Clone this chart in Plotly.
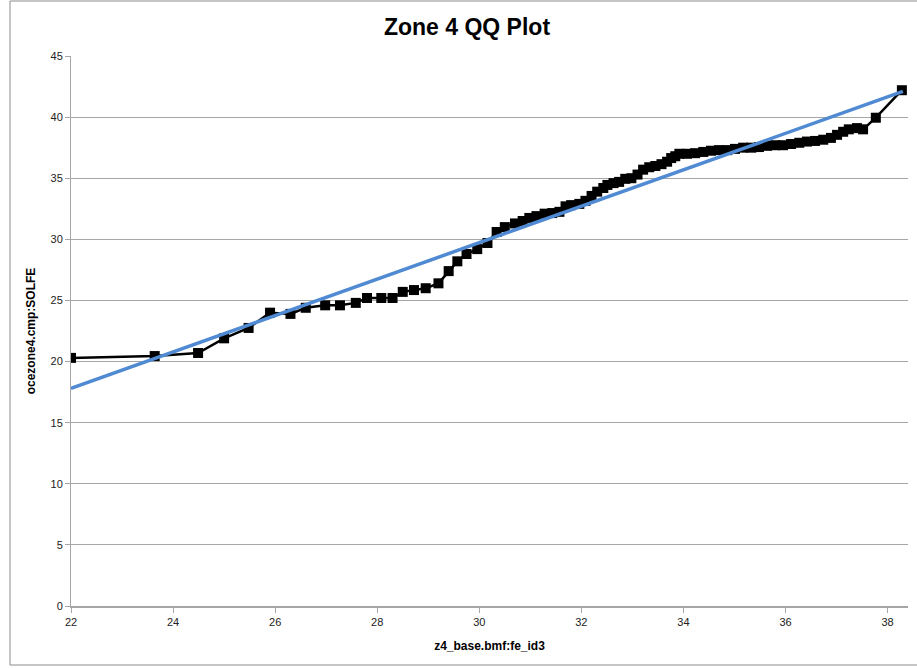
import plotly.graph_objects as go

# Sample quantiles (x) vs. model quantiles (y)
qq_x = [22.0, 23.64, 24.49, 25.0, 25.48, 25.9, 26.3, 26.6, 26.98, 27.27, 27.58,
        27.8, 28.08, 28.3, 28.5, 28.72, 28.95, 29.2, 29.4, 29.57, 29.75, 29.96,
        30.16, 30.34, 30.5, 30.7, 30.85, 30.98, 31.12, 31.28, 31.43, 31.57,
        31.69, 31.8, 31.96, 32.08, 32.2, 32.31, 32.43, 32.51, 32.63, 32.74,
        32.86, 32.98, 33.1, 33.21, 33.33, 33.45, 33.57, 33.68, 33.76, 33.84,
        33.92, 34.07, 34.23, 34.39, 34.54, 34.7, 34.86, 35.01, 35.17, 35.33,
        35.48, 35.64, 35.8, 35.95, 36.11, 36.27, 36.42, 36.58, 36.74, 36.89,
        37.01, 37.13, 37.24, 37.4, 37.52, 37.77, 38.28]
qq_y = [20.3, 20.45, 20.7, 21.9, 22.75, 24.0, 23.9, 24.4, 24.6, 24.6, 24.8,
        25.2, 25.2, 25.2, 25.7, 25.85, 26.0, 26.4, 27.4, 28.2, 28.8, 29.2,
        29.7, 30.6, 31.0, 31.3, 31.5, 31.75, 31.9, 32.1, 32.15, 32.25,
        32.7, 32.8, 32.9, 33.15, 33.55, 33.9, 34.2, 34.45, 34.6, 34.7,
        34.95, 35.0, 35.3, 35.7, 35.9, 36.0, 36.15, 36.35, 36.65, 36.8,
        37.0, 37.0, 37.05, 37.15, 37.25, 37.3, 37.3, 37.4, 37.5, 37.5,
        37.55, 37.65, 37.7, 37.7, 37.8, 37.9, 38.0, 38.05, 38.15, 38.3,
        38.55, 38.8, 39.0, 39.1, 39.0, 39.95, 42.2]

# Reference line endpoints
ref_x = [22.0, 38.3]
ref_y = [17.8, 42.1]

x_ticks = [22, 24, 26, 28, 30, 32, 34, 36, 38]
y_ticks = [0, 5, 10, 15, 20, 25, 30, 35, 40, 45]

W, H = 917, 668
ml, mr, mt, mb = 71, 9, 56, 62
pw, ph = W - ml - mr, H - mt - mb

fig = go.Figure()
fig.add_trace(go.Scatter(
    x=qq_x, y=qq_y, mode="lines+markers",
    line=dict(color="black", width=2.5),
    marker=dict(symbol="square", size=10, color="black"),
    showlegend=False,
))
fig.add_trace(go.Scatter(
    x=ref_x, y=ref_y, mode="lines",
    line=dict(color="rgb(80,138,210)", width=3.5),
    showlegend=False,
))

axis_font = dict(family="Liberation Sans, Arial, sans-serif", size=11, color="#222")
fig.update_layout(
    width=W, height=H,
    margin=dict(l=ml, r=mr, t=mt, b=mb),
    paper_bgcolor="white", plot_bgcolor="white",
    title=dict(text="<b>Zone 4 QQ Plot</b>", x=467 / W, xref="container", xanchor="center",
               y=1 - 27 / H, yref="container", yanchor="middle",
               font=dict(family="Liberation Sans, Arial, sans-serif", size=23, color="black")),
    xaxis=dict(range=[22, 38.4], tickvals=x_ticks, showgrid=False, zeroline=False,
               showline=True, linecolor="#a6a6a6", linewidth=2,
               ticks="outside", ticklen=5, tickcolor="#a6a6a6", tickfont=axis_font,
               title=dict(text="<b>z4_base.bmf:fe_id3</b>", standoff=14,
                          font=dict(family="Liberation Sans, Arial, sans-serif", size=12, color="black"))),
    yaxis=dict(range=[0, 45], tickvals=y_ticks, showgrid=True, gridcolor="#a6a6a6", gridwidth=1,
               zeroline=False, showline=True, linecolor="#a6a6a6", linewidth=1,
               ticks="outside", ticklen=5, tickcolor="#a6a6a6", tickfont=axis_font,
               title=dict(text="<b>ocezone4.cmp:SOLFE</b>", standoff=12,
                          font=dict(family="Liberation Sans, Arial, sans-serif", size=12, color="black"))),
)

# Chart frame
fig.add_shape(type="rect", xref="paper", yref="paper",
              x0=(10 - ml) / pw, x1=(W + 5 - ml) / pw,
              y0=(H - mb - 665) / ph, y1=(H - mb - 1) / ph,
              line=dict(color="#8c8c8c", width=1), fillcolor="rgba(0,0,0,0)", layer="below")

fig.write_html("out.html")
